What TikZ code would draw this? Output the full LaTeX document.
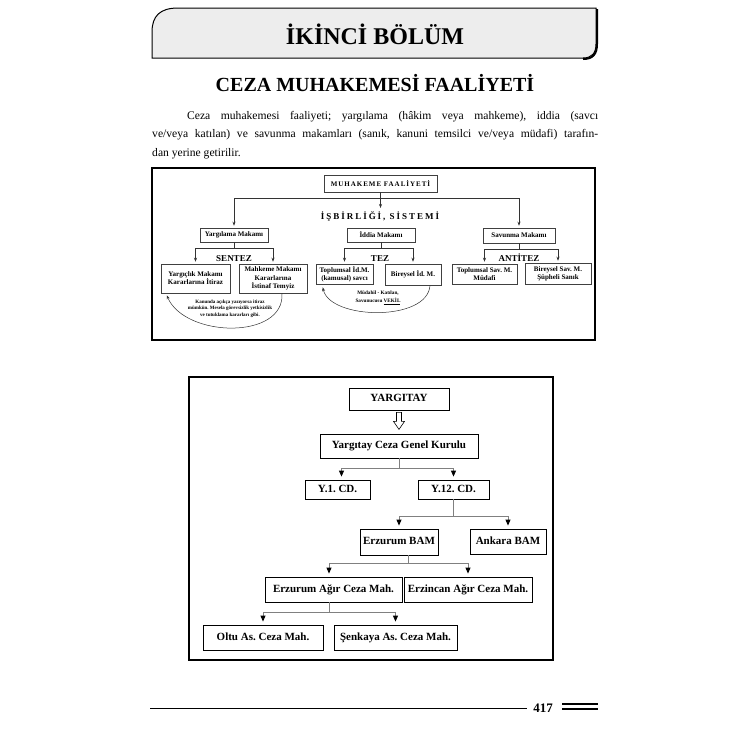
\documentclass[tikz,border=0pt]{standalone}
\usepackage{fontspec}
\setmainfont{Liberation Serif}
\newfontfamily\aralikli[LetterSpace=22]{Liberation Serif}
\newfontfamily\aralikdar[LetterSpace=14]{Liberation Serif}
\usetikzlibrary{calc,arrows.meta}

\begin{document}
\frenchspacing
\begin{tikzpicture}[x=1pt,y=-1pt,
		kutu/.style={draw=black!75,line width=0.5pt,fill=white,align=center,inner sep=1pt,font=\bfseries\fontsize{7}{8.2}\selectfont},
		dal/.style={draw=black!80,line width=0.5pt},
		ok/.style={dal,-{Stealth[length=4pt,width=3pt]},shorten >=2pt},
		blok/.style={draw=black,line width=0.8pt,align=center,inner sep=1pt,text height=8pt,text depth=2.5pt,font=\bfseries\fontsize{11}{13}\selectfont},
		hat/.style={draw=black!50,line width=0.9pt},
		uc/.style={hat,-{Triangle[length=6pt,width=5pt,color=black]},shorten >=3pt}]
	\useasboundingbox (0,0) rectangle (750,750);
	
	\draw[line width=1pt,fill=black!7] (152,58) -- (152,32) .. controls (152,16) and (160,8) .. (178,8) -- (596,8) -- (596,44) .. controls (596,53) and (592,58) .. (583,58) -- cycle;
	\draw[line width=2pt] (597,9) -- (597,44) .. controls (597,54) and (593,59) .. (583,59);
	\node[font=\bfseries\fontsize{24}{28}\selectfont,anchor=base] (bolum) at (375,44) {İKİNCİ BÖLÜM};
	\node[font=\bfseries\fontsize{20}{24}\selectfont,anchor=base] (baslik) at (375,91) {CEZA MUHAKEMESİ FAALİYETİ};
	\node[anchor=north west,inner sep=0pt,text width=446pt,align=justify,font=\fontsize{11.6}{18.5}\selectfont] (metin) at (152,111) {\hspace*{35pt}Ceza muhakemesi faaliyeti; yargılama (hâkim veya mahkeme), iddia (savcı\linebreak ve/veya katılan) ve savunma makamları (sanık, kanuni temsilci ve/veya müdafi) tarafın-\linebreak dan yerine getirilir.};
	
	\draw[line width=1.8pt] (152,168) rectangle (595,340);
	\node[kutu,font=\aralikdar\bfseries\fontsize{7}{8}\selectfont,minimum width=113pt,minimum height=17pt] (muhakeme) at (380.5,183.5) {MUHAKEME FAALİYETİ};
	\node[font=\aralikli\bfseries\fontsize{9}{10}\selectfont,anchor=base,inner sep=1pt] (isbirligi) at (380,219) {İŞBİRLİĞİ, SİSTEMİ};
	\node[kutu,minimum width=68pt,minimum height=14pt] (yargilama) at (234,235) {Yargılama Makamı};
	\node[kutu,minimum width=68pt,minimum height=14pt] (iddia) at (381,235) {İddia Makamı};
	\node[kutu,minimum width=72pt,minimum height=15pt] (savunma) at (519,235.5) {Savunma Makamı};
	\coordinate (sol) at (234,198);
	\coordinate (sag) at (519,198);
	\draw[dal] (sol) -- (sag);
	\draw[ok] (muhakeme.south) -- (muhakeme.south |- isbirligi.north);
	\draw[ok] (sol) -- (yargilama.north);
	\draw[ok] (sag) -- (savunma.north);
	
	\node[kutu,minimum width=69pt,minimum height=29pt] (yargic) at (195.5,278.5) {Yargıçlık Makamı\\Kararlarına İtiraz};
	\node[kutu,minimum width=68pt,minimum height=29pt] (mahkeme) at (273,278.5) {Mahkeme Makamı\\Kararlarına\\İstinaf Temyiz};
	\node[kutu,minimum width=57pt,minimum height=20pt] (topid) at (344.5,274) {Toplumsal İd.M.\\(kamusal) savcı};
	\node[kutu,minimum width=56pt,minimum height=21pt] (birid) at (413,274.5) {Bireysel İd. M.};
	\node[kutu,minimum width=65pt,minimum height=20pt] (topsav) at (484.5,274) {Toplumsal Sav. M.\\Müdafi};
	\node[kutu,minimum width=66pt,minimum height=21pt] (birsav) at (558,273.5) {Bireysel Sav. M.\\Şüpheli Sanık};
	\draw[dal] (yargilama.south) -- ++(0,6) coordinate (yk);
	\draw[ok] (yk) -| (yargic.north);
	\draw[ok] (yk) -| (mahkeme.north);
	\draw[dal] (iddia.south) -- ++(0,6) coordinate (ik);
	\draw[ok] (ik) -| (topid.north);
	\draw[ok] (ik) -| (birid.north);
	\draw[dal] (savunma.south) -- ++(0,5.5) coordinate (sk);
	\draw[ok] (sk) -| (topsav.north);
	\draw[ok] (sk) -| (birsav.north);
	\node[font=\bfseries\fontsize{9}{10}\selectfont,anchor=base] (sentez) at (234,261) {SENTEZ};
	\node[font=\bfseries\fontsize{9}{10}\selectfont,anchor=base] (tez) at (380,261) {TEZ};
	\node[font=\bfseries\fontsize{9}{10}\selectfont,anchor=base] (antitez) at (519,261) {ANTİTEZ};
	
	\draw[dal,-{Stealth[length=4pt,width=3pt]}] ($(mahkeme.south)+(9,0)$) .. controls (285,340) and (185,338) .. ($(yargic.south west)+(6,2)$);
	\node[font=\bfseries\fontsize{5}{6.6}\selectfont,align=center] (itiraz) at (230,308.5) {Kanunda açıkça yazıyorsa itiraz\\mümkün. Mesela görevsizlik yetkisizlik\\ve tutuklama kararları gibi.};
	\draw[dal,-{Stealth[length=4pt,width=3pt]}] ($(birid.south)+(17,0)$) .. controls (428,322) and (330,320) .. ($(topid.south west)+(7,3)$);
	\node[font=\bfseries\fontsize{5.2}{8}\selectfont,align=center] (vekil) at (378,297.5) {Müdahil - Katılan,\\Savunucusu \underline{VEKİL}};
	
	\draw[line width=2.2pt] (189,377) rectangle (553,660);
	\node[blok,minimum width=100pt,minimum height=22pt] (yargitay) at (399,399) {YARGITAY};
	\draw[line width=0.6pt] ($(yargitay.south)+(-2.5,2)$) -- ++(0,9) -- ++(-3,0) -- ++(5.5,8) -- ++(5.5,-8) -- ++(-3,0) -- ++(0,-9) -- cycle;
	\node[blok,minimum width=158pt,minimum height=24pt] (kurul) at (399,446) {Yargıtay Ceza Genel Kurulu};
	\node[blok,minimum width=65pt,minimum height=19pt] (ybir) at (337.5,489.5) {Y.1. CD.};
	\node[blok,minimum width=71pt,minimum height=19pt] (yoniki) at (453.5,489.5) {Y.12. CD.};
	\node[blok,minimum width=78pt,minimum height=26pt] (erzbam) at (399,542) {Erzurum BAM};
	\node[blok,minimum width=76pt,minimum height=25pt] (ankbam) at (508,541.5) {Ankara BAM};
	\node[blok,minimum width=137pt,minimum height=25pt] (erzagir) at (333.5,589.5) {Erzurum Ağır Ceza Mah.};
	\node[blok,minimum width=128pt,minimum height=25pt] (erzinagir) at (468,589.5) {Erzincan Ağır Ceza Mah.};
	\node[blok,minimum width=120pt,minimum height=25pt] (oltu) at (263,637.5) {Oltu As. Ceza Mah.};
	\node[blok,minimum width=123pt,minimum height=25pt] (senkaya) at (395.5,637.5) {Şenkaya As. Ceza Mah.};
	\draw[hat] (kurul.south) -- ++(0,10) coordinate (k1);
	\draw[uc] (k1) -| ($(ybir.north)+(4,0)$);
	\draw[uc] (k1) -| (yoniki.north);
	\draw[hat] (yoniki.south) -- ++(0,17) coordinate (k2);
	\draw[uc] (k2) -| (erzbam.north);
	\draw[uc] (k2) -| (ankbam.north);
	\draw[hat] ($(erzbam.south)+(9,0)$) -- ++(0,8) coordinate (k3);
	\draw[uc] (k3) -| ($(erzagir.north)+(-4.5,0)$);
	\draw[uc] (k3) -| (erzinagir.north);
	\draw[hat] ($(erzagir.south)+(-4.5,0)$) -- ++(0,10) coordinate (k4);
	\draw[uc] (k4) -| (oltu.north);
	\draw[uc] (k4) -| (senkaya.north);
	
	\draw[line width=0.6pt] (150,708) -- (527,708);
	\node[font=\bfseries\fontsize{13}{15}\selectfont,anchor=base] (sayfa) at (543,712) {417};
	\draw[line width=1.3pt] (562,704) -- (598,704);
	\draw[line width=1.3pt] (562,709) -- (598,709);
\end{tikzpicture}
\end{document}
